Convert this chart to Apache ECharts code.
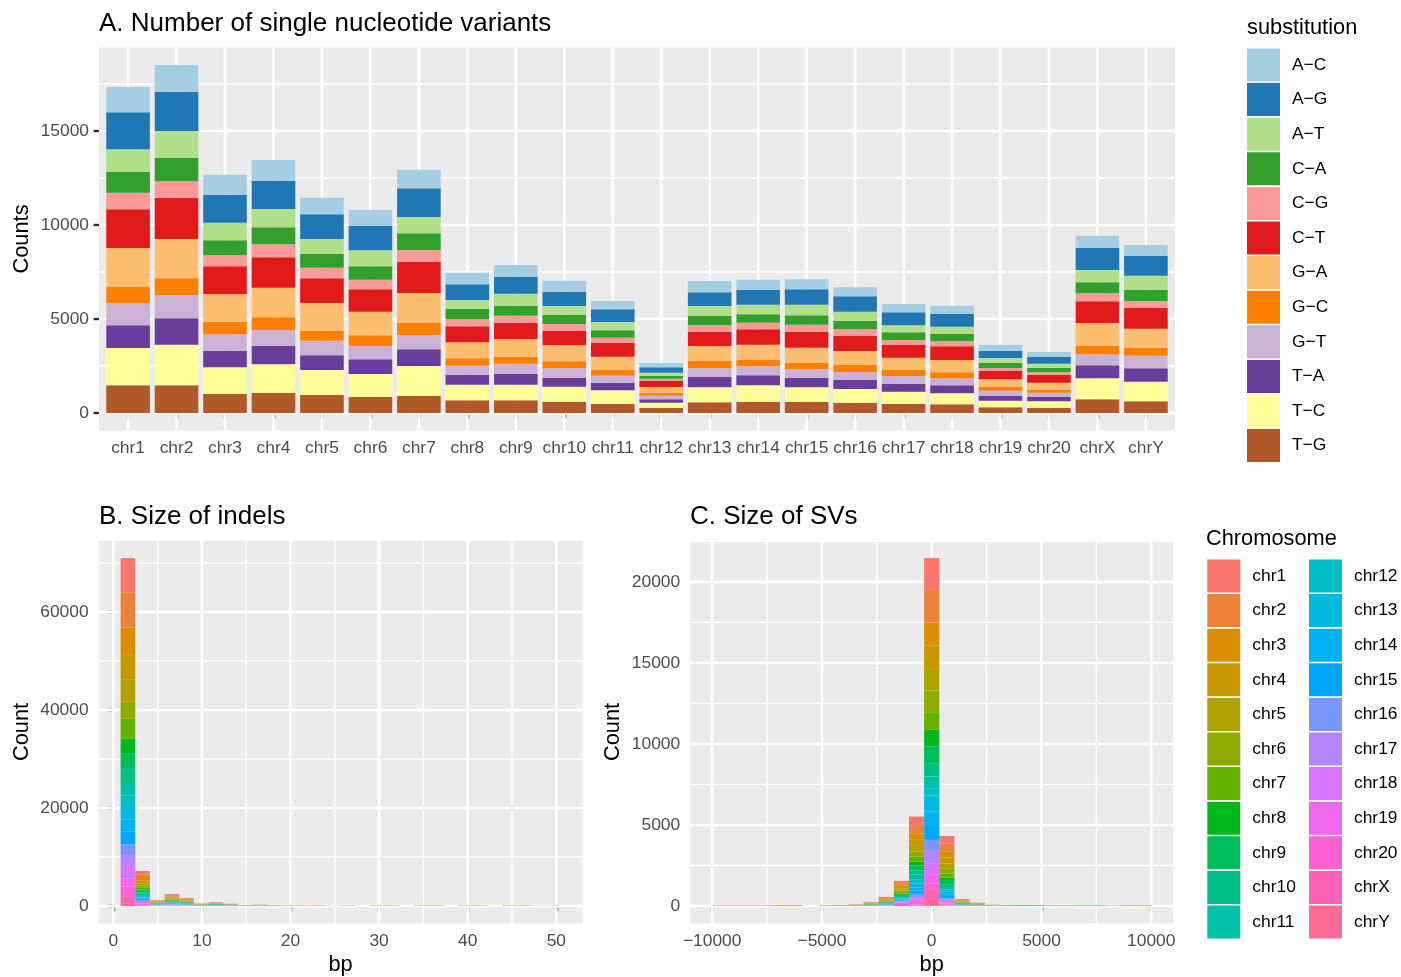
<!DOCTYPE html>
<html>
<head>
<meta charset="utf-8">
<script src="https://cdn.jsdelivr.net/npm/echarts@6/dist/echarts.min.js"></script>
<style>html,body{margin:0;padding:0;background:#fff}#c{width:1401px;height:977px}</style>
</head>
<body>
<div id="c"></div>
<script>
// ---------------- DATA ----------------
const chromosomes = ['chr1','chr2','chr3','chr4','chr5','chr6','chr7','chr8','chr9','chr10','chr11',
  'chr12','chr13','chr14','chr15','chr16','chr17','chr18','chr19','chr20','chrX','chrY'];
const substitutions = ['A\u2212C','A\u2212G','A\u2212T','C\u2212A','C\u2212G','C\u2212T','G\u2212A','G\u2212C','G\u2212T','T\u2212A','T\u2212C','T\u2212G'];

// Panel A: SNV counts per chromosome (chr1..chrY)
const snvAC = [1346,1418,1064,1099,887,850,993,620,620,585,443,231,603,550,532,478,443,443,319,266,656,585];
const snvAG = [1968,2093,1489,1507,1312,1295,1525,833,905,763,674,284,727,780,816,816,692,674,391,355,1170,1046];
const snvAT = [1207,1418,940,975,780,851,868,479,638,461,443,159,532,514,567,479,372,372,265,213,656,745];
const snvCA = [1101,1259,797,905,745,709,887,550,532,496,390,160,496,443,497,461,408,408,266,248,585,603];
const snvCG = [883,869,586,691,567,514,638,372,372,355,284,106,355,355,390,337,266,266,142,124,425,354];
const snvCT = [2058,2198,1471,1613,1312,1188,1649,851,869,780,727,337,744,815,833,815,674,727,461,426,1153,1117];
const snvGA = [2059,2092,1490,1578,1472,1259,1596,851,940,851,709,302,798,798,798,745,656,656,408,390,1223,1011];
const snvGC = [883,887,656,674,532,567,638,390,372,354,301,159,372,355,354,372,319,319,195,142,443,425];
const snvGT = [1170,1241,868,851,780,709,762,479,550,515,373,195,479,479,461,426,425,372,284,230,585,674];
const snvTA = [1208,1400,887,975,780,781,887,532,567,478,407,177,550,531,497,478,408,426,248,230,692,709];
const snvTC = [1984,2163,1418,1525,1330,1223,1578,833,833,798,727,284,798,869,780,727,656,585,355,355,1117,1046];
const snvTG = [1473,1472,1011,1064,957,851,922,674,674,603,479,266,567,603,585,550,479,461,301,266,727,621];

// Panel B: indel size histogram, 30 bins (width 48/29 bp, centred on multiples of the width)
const indelBinWidth = 48 / 29;
const indelFirstBin = 1;
const indelChr1  = [7000,700,120,240,160,60,80,55,30,30,20,0,0,30,0,0,0,0,40,0,0,40,0,0,0,0,0,0,0,0];
const indelChr2  = [7150,720,120,245,160,55,80,50,30,30,20,30,30,0,0,30,0,40,0,0,40,0,0,40,0,0,40,0,0,0];
const indelChr3  = [5450,550,90,185,120,40,60,40,20,25,15,30,30,30,30,30,0,40,40,0,40,40,0,60,60,0,60,60,0,0];
const indelChr4  = [5250,530,90,180,120,40,60,35,20,25,15,20,20,0,0,0,0,30,0,0,0,30,0,0,40,0,0,0,0,0];
const indelChr5  = [4400,450,75,150,100,30,50,30,15,20,0,20,0,20,0,30,0,0,0,0,30,0,0,0,0,0,0,40,0,0];
const indelChr6  = [3550,360,60,120,80,25,40,25,0,20,15,0,20,0,0,0,0,0,30,0,0,0,0,0,0,0,0,0,0,0];
const indelChr7  = [4000,410,70,140,90,30,45,30,15,20,0,20,0,20,0,0,0,0,0,0,0,0,0,0,0,0,0,0,0,0];
const indelChr8  = [3000,300,50,100,65,20,35,20,0,20,20,0,0,0,0,0,0,0,0,0,0,0,0,0,0,0,0,0,0,0];
const indelChr9  = [3050,310,50,105,70,20,35,20,20,20,20,0,0,0,0,0,0,0,0,0,0,0,0,0,0,0,0,0,0,0];
const indelChr10 = [3050,310,50,105,70,20,35,20,20,20,15,0,0,0,0,0,0,0,0,0,0,0,0,0,0,0,0,0,0,0];
const indelChr11 = [2600,260,45,90,60,20,30,15,0,0,0,0,0,0,0,0,0,0,0,0,0,0,0,0,0,0,0,0,0,0];
const indelChr12 = [2300,230,40,80,50,15,25,15,0,0,10,0,0,0,0,0,0,0,0,0,0,0,0,0,0,0,0,0,0,0];
const indelChr13 = [2600,260,45,90,60,20,30,15,10,15,0,0,0,0,0,0,0,0,0,0,0,0,0,0,0,0,0,0,0,0];
const indelChr14 = [2400,240,40,80,55,15,25,15,0,0,0,0,0,0,0,0,0,0,0,0,0,0,0,0,0,0,0,0,0,0];
const indelChr15 = [2600,260,45,90,60,20,30,15,10,15,0,0,0,0,0,0,0,0,0,0,0,0,0,0,0,0,0,0,0,0];
const indelChr16 = [2200,220,35,75,50,15,25,15,0,0,0,0,0,0,0,0,0,0,0,0,0,0,0,0,0,0,0,0,0,0];
const indelChr17 = [2050,200,35,70,45,10,20,10,0,0,0,0,0,0,0,0,0,0,0,0,0,0,0,0,0,0,0,0,0,0];
const indelChr18 = [2700,280,45,95,60,20,30,15,10,10,0,0,0,0,0,0,0,0,0,0,0,0,0,0,0,0,0,0,0,50];
const indelChr19 = [1700,170,30,60,40,10,20,10,0,0,0,0,0,0,0,0,0,0,0,0,0,0,0,0,0,0,0,0,50,0];
const indelChr20 = [2050,200,35,70,45,15,20,15,0,0,0,0,0,0,0,0,0,0,0,0,0,0,0,0,0,0,0,0,0,0];
const indelChrX  = [1350,140,25,45,30,10,15,10,0,0,0,0,0,0,0,0,0,0,0,0,0,0,0,0,0,0,0,0,0,0];
const indelChrY  = [550,40,5,15,10,0,5,0,0,0,0,0,0,0,0,0,0,0,0,0,0,0,0,0,0,0,0,0,0,0];

// Panel C: SV size histogram, 29 bins (width 20000/29 bp, centred on multiples of the width)
const svBinWidth = 20000 / 29;
const svFirstBin = -14;
const svChr1  = [0,0,0,0,0,0,0,0,0,20,30,60,140,580,1910,470,50,30,15,0,0,0,0,0,0,0,0,0,0];
const svChr2  = [0,0,0,0,0,0,0,0,20,15,30,55,130,450,2060,470,45,25,15,0,0,0,0,0,0,0,0,0,0];
const svChr3  = [0,0,0,0,30,30,0,20,0,15,25,50,110,410,1420,400,40,20,0,0,0,0,0,0,0,0,0,25,25];
const svChr4  = [0,0,0,0,0,30,0,0,0,0,20,45,100,370,1400,350,35,20,10,0,0,0,0,0,0,0,0,25,0];
const svChr5  = [0,0,0,0,30,0,0,0,20,10,20,40,110,350,1380,330,30,15,0,0,0,0,0,0,0,0,0,0,25];
const svChr6  = [0,0,0,0,0,0,0,20,0,0,15,35,100,310,1340,300,30,15,10,0,0,0,0,0,0,0,20,0,0];
const svChr7  = [0,0,0,0,0,0,0,0,0,10,15,30,90,310,1090,250,25,10,0,25,0,0,0,30,0,0,0,0,0];
const svChr8  = [0,0,0,0,0,0,0,0,0,0,10,25,80,250,1030,200,20,10,10,0,40,0,0,0,30,0,0,0,0];
const svChr9  = [0,0,0,0,0,0,0,0,20,10,10,25,70,290,1030,200,20,10,0,25,0,40,0,0,0,30,0,0,0];
const svChr10 = [0,0,0,0,0,0,0,0,0,0,10,25,60,270,820,180,20,10,10,0,0,0,30,0,0,0,0,0,0];
const svChr11 = [0,0,0,0,0,0,0,0,0,0,10,20,60,310,720,150,15,5,0,0,0,0,0,0,0,0,0,0,0];
const svChr12 = [0,0,0,0,0,0,0,0,0,0,5,15,40,220,450,120,10,5,0,0,0,0,0,0,0,0,0,0,0];
const svChr13 = [0,0,0,0,0,0,0,0,0,10,10,20,60,250,990,150,15,5,0,0,0,0,0,0,0,0,0,0,0];
const svChr14 = [0,0,0,0,0,0,0,0,0,0,10,20,50,200,890,130,15,5,10,0,0,0,0,0,0,0,0,0,0];
const svChr15 = [0,0,0,0,0,0,0,0,0,0,10,20,50,200,860,130,15,5,0,0,0,0,0,0,0,0,0,0,0];
const svChr16 = [0,0,0,0,0,0,0,0,0,0,5,15,30,130,620,90,10,5,0,0,0,0,0,0,0,0,0,0,0];
const svChr17 = [0,0,0,0,0,0,0,0,0,10,5,15,30,150,820,90,10,5,0,0,0,0,0,0,0,0,0,0,0];
const svChr18 = [0,0,0,0,0,0,0,0,0,0,5,15,60,150,720,80,10,5,0,0,0,0,0,0,0,0,0,0,0];
const svChr19 = [30,30,30,30,0,0,0,0,0,0,5,10,60,130,520,70,5,0,0,0,0,0,0,0,0,0,0,0,0];
const svChr20 = [0,0,0,0,0,0,0,0,0,0,0,10,60,100,410,60,5,0,0,0,0,0,0,0,0,0,0,0,0];
const svChrX  = [0,0,0,0,0,0,0,0,0,0,5,10,60,60,620,70,5,5,0,0,0,0,0,0,0,0,0,0,0];
const svChrY  = [0,0,0,0,0,0,0,0,0,0,0,0,0,30,370,30,0,0,0,0,0,0,0,0,0,0,0,0,0];

// Tick labels
const ticksAY = [0, 5000, 10000, 15000];
const ticksBX = [0, 10, 20, 30, 40, 50];
const ticksBY = [0, 20000, 40000, 60000];
const ticksCX = [-10000, -5000, 0, 5000, 10000];
const ticksCY = [0, 5000, 10000, 15000, 20000];

// ---------------- BUILD ----------------
const FONT = '"Liberation Sans", Arial, Helvetica, sans-serif';
const snvBySub = [snvAC, snvAG, snvAT, snvCA, snvCG, snvCT, snvGA, snvGC, snvGT, snvTA, snvTC, snvTG];
const indelByChr = [indelChr1,indelChr2,indelChr3,indelChr4,indelChr5,indelChr6,indelChr7,indelChr8,indelChr9,indelChr10,indelChr11,
  indelChr12,indelChr13,indelChr14,indelChr15,indelChr16,indelChr17,indelChr18,indelChr19,indelChr20,indelChrX,indelChrY];
const svByChr = [svChr1,svChr2,svChr3,svChr4,svChr5,svChr6,svChr7,svChr8,svChr9,svChr10,svChr11,
  svChr12,svChr13,svChr14,svChr15,svChr16,svChr17,svChr18,svChr19,svChr20,svChrX,svChrY];

const pairedColors = ['#A6CEE3','#1F78B4','#B2DF8A','#33A02C','#FB9A99','#E31A1C','#FDBF6F','#FF7F00','#CAB2D6','#6A3D9A','#FFFF99','#B15928'];

function hcl2hex(h, c, l) {
  const WX = 95.047, WY = 100.0, WZ = 108.883;
  const den = WX + 15 * WY + 3 * WZ;
  const uN = 4 * WX / den, vN = 9 * WY / den;
  const hr = h * Math.PI / 180;
  const U = c * Math.cos(hr), V = c * Math.sin(hr);
  const Y = l > 7.999592 ? WY * Math.pow((l + 16) / 116, 3) : WY * l / 903.3;
  const u = U / (13 * l) + uN, v = V / (13 * l) + vN;
  const X = 9.0 * Y * u / (4 * v);
  const Z = -X / 3 - 5 * Y + 3 * Y / v;
  const g = t => t > 0.00304 ? 1.055 * Math.pow(t, 1 / 2.4) - 0.055 : 12.92 * t;
  const ch = t => { const x = Math.round(255 * Math.min(1, Math.max(0, g(t)))); return x.toString(16).padStart(2, '0'); };
  return '#' + ch((3.240479 * X - 1.537150 * Y - 0.498535 * Z) / WY)
             + ch((-0.969256 * X + 1.875992 * Y + 0.041556 * Z) / WY)
             + ch((0.055648 * X - 0.204043 * Y + 1.057311 * Z) / WY);
}
const chrColors = chromosomes.map((_, i) => hcl2hex(15 + i * 360 / chromosomes.length, 100, 65));

function extent(lo, hi) { const d = (hi - lo) * 0.05; return [lo - d, hi + d]; }

// stacked rectangles drawn via the cartesian scale
function stackSeries(gi, names, arrays, centers, halfW, colors, bottomToTop) {
  const cum = centers.map(() => 0);
  const out = [];
  bottomToTop.forEach(idx => {
    const arr = arrays[idx];
    const data = centers.map((x, k) => {
      const v = arr[k] || 0;
      const item = [x, cum[k], cum[k] + v];
      cum[k] += v;
      return item;
    });
    const color = colors[idx];
    out.push({
      type: 'custom', name: names[idx], xAxisIndex: gi, yAxisIndex: gi, z: 3,
      silent: true, animation: false, itemStyle: { color: color },
      dimensions: ['x', 'y0', 'y1'], encode: { x: 0, y: [1, 2] },
      data: data,
      renderItem: function (params, api) {
        const x = api.value(0), y0 = api.value(1), y1 = api.value(2);
        if (!(y1 > y0)) return null;
        const a = api.coord([x - halfW, y1]);
        const b = api.coord([x + halfW, y0]);
        return { type: 'rect', shape: { x: a[0], y: a[1], width: b[0] - a[0], height: b[1] - a[1] },
                 style: { fill: color } };
      }
    });
  });
  return { series: out, totals: cum };
}

function minors(major, lo, hi) {
  const step = major[1] - major[0];
  const res = [];
  for (let i = -1; i < major.length; i++) {
    const m = (i < 0 ? major[0] - step : major[i]) + step / 2;
    if (m > lo && m < hi) res.push(m);
  }
  return res;
}

function gridLines(gi, hMajor, hMinor, vMajor, vMinor) {
  const items = [];
  hMinor.forEach(v => items.push([0, v, 1.3]));
  vMinor.forEach(v => items.push([1, v, 1.3]));
  hMajor.forEach(v => items.push([0, v, 2.6]));
  vMajor.forEach(v => items.push([1, v, 2.6]));
  return {
    type: 'custom', xAxisIndex: gi, yAxisIndex: gi, z: 1, silent: true, animation: false,
    data: items,
    renderItem: function (params, api) {
      const o = api.value(0), v = api.value(1), w = api.value(2);
      const cs = params.coordSys;
      if (o === 0) {
        const y = api.coord([0, v])[1];
        return { type: 'line', shape: { x1: cs.x, y1: y, x2: cs.x + cs.width, y2: y }, style: { stroke: '#FFFFFF', lineWidth: w } };
      }
      const x = api.coord([v, 0])[0];
      return { type: 'line', shape: { x1: x, y1: cs.y, x2: x, y2: cs.y + cs.height }, style: { stroke: '#FFFFFF', lineWidth: w } };
    }
  };
}

const numFmt = v => (v < 0 ? '\u2212' + Math.abs(v) : String(v));

function axis(gi, min, max, ticks, fmt, isX) {
  return {
    type: 'value', gridIndex: gi, min: min, max: max,
    axisLine: { show: false }, splitLine: { show: false }, minorSplitLine: { show: false },
    axisTick: { show: true, customValues: ticks, length: 5.4, lineStyle: { color: '#333333', width: 2.4 } },
    axisLabel: { show: true, customValues: ticks, formatter: fmt, color: '#4D4D4D', fontSize: 17.4,
                 fontFamily: FONT, margin: isX ? 9 : 10 }
  };
}

// Panel A
const catPos = chromosomes.map((_, i) => i + 1);
const A = stackSeries(0, substitutions, snvBySub, catPos, 0.45, pairedColors,
  snvBySub.map((_, i) => snvBySub.length - 1 - i));
const yA = extent(0, Math.max(...A.totals));
const xA = [0.4, chromosomes.length + 0.6];

// Panel B
const indelCenters = indelChr1.map((_, k) => (indelFirstBin + k) * indelBinWidth);
const B = stackSeries(1, chromosomes, indelByChr, indelCenters, indelBinWidth / 2, chrColors,
  chromosomes.map((_, i) => chromosomes.length - 1 - i));
const yB = extent(0, Math.max(...B.totals));
const xB = extent(indelCenters[0] - indelBinWidth / 2, indelCenters[indelCenters.length - 1] + indelBinWidth / 2);

// Panel C
const svCenters = svChr1.map((_, k) => (svFirstBin + k) * svBinWidth);
const C = stackSeries(2, chromosomes, svByChr, svCenters, svBinWidth / 2, chrColors,
  chromosomes.map((_, i) => chromosomes.length - 1 - i));
const yC = extent(0, Math.max(...C.totals));
const xC = extent(svCenters[0] - svBinWidth / 2, svCenters[svCenters.length - 1] + svBinWidth / 2);

function txt(text, x, y, size, rot, align) {
  return { type: 'text', x: x, y: y, rotation: rot || 0, silent: true, z: 100,
    style: { text: text, fill: '#000000', fontSize: size, fontFamily: FONT,
             align: align || 'left', verticalAlign: 'middle' } };
}

function legend(left, top, data) {
  return { show: true, orient: 'vertical', left: left, top: top, padding: 0,
    itemWidth: 33, itemHeight: 33, itemGap: 1.6, icon: 'rect', selectedMode: false,
    data: data,
    textStyle: { fontSize: 17.4, fontFamily: FONT, color: '#000000', padding: [2, 0, 0, 7] } };
}

const gridBase = { show: true, backgroundColor: '#EBEBEB', borderWidth: 0, containLabel: false, outerBoundsMode: 'none' };

const option = {
  animation: false,
  backgroundColor: '#FFFFFF',
  textStyle: { fontFamily: FONT },
  grid: [
    Object.assign({ left: 99, top: 47.6, width: 1076, height: 382.8 }, gridBase),
    Object.assign({ left: 98.6, top: 540.7, width: 484, height: 382.7 }, gridBase),
    Object.assign({ left: 690.2, top: 540.7, width: 483, height: 382.7 }, gridBase)
  ],
  xAxis: [
    axis(0, xA[0], xA[1], catPos, v => chromosomes[Math.round(v) - 1], true),
    axis(1, xB[0], xB[1], ticksBX, numFmt, true),
    axis(2, xC[0], xC[1], ticksCX, numFmt, true)
  ],
  yAxis: [
    axis(0, yA[0], yA[1], ticksAY, numFmt, false),
    axis(1, yB[0], yB[1], ticksBY, numFmt, false),
    axis(2, yC[0], yC[1], ticksCY, numFmt, false)
  ],
  legend: [
    legend(1247, 48.5, substitutions),
    legend(1207.3, 559.5, chromosomes.slice(0, 11)),
    legend(1309, 559.5, chromosomes.slice(11))
  ],
  graphic: { elements: [
    txt('A. Number of single nucleotide variants', 99, 23.5, 26),
    txt('B. Size of indels', 99, 516.5, 26),
    txt('C. Size of SVs', 690, 516.5, 26),
    txt('substitution', 1247, 28, 21.8),
    txt('Chromosome', 1206, 538.5, 21.8),
    txt('Counts', 22, 239, 21.8, Math.PI / 2, 'center'),
    txt('Count', 22, 732, 21.8, Math.PI / 2, 'center'),
    txt('Count', 613, 732, 21.8, Math.PI / 2, 'center'),
    txt('bp', 340.6, 965, 21.8, 0, 'center'),
    txt('bp', 931.7, 965, 21.8, 0, 'center')
  ] },
  series: [].concat(
    gridLines(0, ticksAY, minors(ticksAY, yA[0], yA[1]), catPos, []),
    gridLines(1, ticksBY, minors(ticksBY, yB[0], yB[1]), ticksBX, minors(ticksBX, xB[0], xB[1])),
    gridLines(2, ticksCY, minors(ticksCY, yC[0], yC[1]), ticksCX, minors(ticksCX, xC[0], xC[1])),
    A.series, B.series, C.series
  )
};

const chart = echarts.init(document.getElementById('c'), null, { renderer: 'canvas', width: 1401, height: 977 });
chart.setOption(option);
</script>
</body>
</html>
